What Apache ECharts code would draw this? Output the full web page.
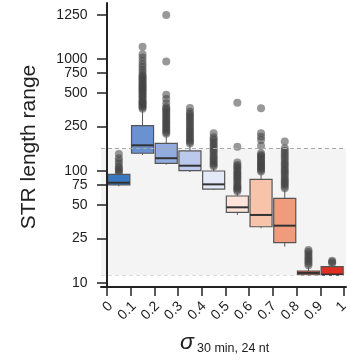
<!DOCTYPE html>
<html><head><meta charset="utf-8">
<script src="https://cdn.jsdelivr.net/npm/echarts@6/dist/echarts.min.js"></script>
<style>html,body{margin:0;padding:0;background:#fff}#c{width:351px;height:361px}</style>
</head><body><div id="c"></div>
<script>
// ---- data ----
const categories = ['0-0.1','0.1-0.2','0.2-0.3','0.3-0.4','0.4-0.5','0.5-0.6','0.6-0.7','0.7-0.8','0.8-0.9','0.9-1'];
const xTickValues = [0,0.1,0.2,0.3,0.4,0.5,0.6,0.7,0.8,0.9,1];
const xTickLabels = ['0','0.1','0.2','0.3','0.4','0.5','0.6','0.7','0.8','0.9','1'];
const yTickValues = [10,25,50,75,100,250,500,750,1000,1250];
const lowWhisker  = [73, 139, 114, 98, 67.7, 40.5, 30.8, 21.1, 11.7, 11.8];
const q1          = [75, 144, 117, 100.6, 69, 42.8, 31.8, 22.9, 11.8, 11.8];
const median      = [78.6, 169.6, 130, 111.5, 76, 47.4, 40.5, 32.5, 12.3, 11.9];
const q3          = [93.4, 254, 176.7, 151, 100, 59.8, 84.3, 57, 12.8, 14];
const highWhisker = [94, 351, 209.6, 170.8, 106.4, 63.6, 96, 67.7, 14, 14.6];
const outliers = [
  [96, 99, 102, 106, 109, 116, 123, 130, 142],
  [360, 370, 380, 390, 400, 410, 420, 435, 450, 465, 480, 495, 510, 525, 540, 555, 570, 585, 600, 620, 640, 660, 680, 700, 720, 760, 800, 850, 900, 960, 1008, 1027, 1070],
  [215, 222, 230, 238, 246, 255, 264, 273, 283, 293, 304, 315, 327, 338, 350, 362, 372, 402, 440, 480, 950, 1250],
  [176, 182, 188, 195, 202, 210, 218, 226, 235, 245, 255, 265, 276, 288, 300, 312, 325, 338, 365],
  [110, 114, 118, 122, 127, 132, 137, 143, 149, 155, 162, 169, 176, 184, 192, 200, 217],
  [66, 68, 70, 72, 74, 77, 80, 83, 86, 89, 92, 95, 98, 102, 106, 110, 113, 119, 165, 407],
  [99, 102, 105, 108, 111, 114, 117, 120, 124, 128, 132, 136, 139, 144, 168, 189, 202, 217, 363],
  [70, 73, 76, 79, 82, 85, 89, 93, 97, 101, 105, 110, 115, 120, 126, 132, 138, 145, 152, 160, 183],
  [14.4, 15, 15.6, 16.2, 16.8, 17.5, 18.2, 19, 19.7],
  [15.0, 15.4, 15.8]
];
const boxColors = ['#3b78c2','#6a92d0','#93acdf','#bac9ec','#e4e9f8','#fde4da','#f7c3ab','#f09b7b','#e8613f','#e02e21'];
const bandLow = 11.8, bandHigh = 160;

// custom y transform: log10 up to 1000, stretched linear above
function T(v){ return v <= 1000 ? Math.log10(v) : 3 + (v - 1000) / 250 * (44 / 112); }
function Tinv(t){ return t <= 3.0000001 ? Math.pow(10, t) : 1000 + (t - 3) * 250 * 112 / 44; }
const yMin = 0.9643, yMax = 3.5;
const xMin = -0.0253, xMax = 1.0084;

const FONT = 'Liberation Sans';
const boxData = categories.map((c, i) => [i, T(lowWhisker[i]), T(q1[i]), T(median[i]), T(q3[i]), T(highWhisker[i])]);
const outData = [];
outliers.forEach((arr, i) => arr.forEach(v => outData.push([i, T(v)])));
const xLabelFmt = v => { const k = xTickValues.findIndex(t => Math.abs(t - v) < 1e-6); return k >= 0 ? xTickLabels[k] : ''; };

const chart = echarts.init(document.getElementById('c'), null, {renderer: 'canvas'});
chart.setOption({
  animation: false,
  backgroundColor: '#fff',
  grid: [
    {left: 101, right: 5, top: 3, bottom: 74},
    {left: 107, right: 7, top: 3, bottom: 74},
    {left: 104.7, right: 1.3, top: 3, bottom: 74}
  ],
  xAxis: [
    {type: 'value', gridIndex: 0, min: xMin, max: xMax, z: 10,
     axisLine: {show: true, lineStyle: {color: '#222', width: 2}},
     axisTick: {show: true, customValues: xTickValues, length: 9, lineStyle: {color: '#222', width: 1.5}},
     axisLabel: {show: false},
     splitLine: {show: false}},
    {type: 'category', gridIndex: 1, data: categories, show: false, boundaryGap: true},
    // label-only axis (labels hang slightly right of their ticks, as in the reference)
    {type: 'value', gridIndex: 2, min: xMin, max: xMax, position: 'bottom', z: 10,
     axisLine: {show: false}, axisTick: {show: false}, splitLine: {show: false},
     axisLabel: {customValues: xTickValues, rotate: 45, margin: 17, fontSize: 14, color: '#222', fontFamily: FONT,
       formatter: xLabelFmt}}
  ],
  yAxis: [
    {type: 'value', gridIndex: 0, min: yMin, max: yMax, z: 10,
     axisLine: {show: true, lineStyle: {color: '#222', width: 2}},
     axisTick: {show: true, customValues: yTickValues.map(T), length: 10, lineStyle: {color: '#222', width: 1.5}},
     axisLabel: {customValues: yTickValues.map(T), margin: 13.5, fontSize: 14, color: '#222', fontFamily: FONT,
       formatter: v => String(Math.round(Tinv(v)))},
     splitLine: {show: false}},
    {type: 'value', gridIndex: 1, min: yMin, max: yMax, show: false},
    {type: 'value', gridIndex: 2, min: yMin, max: yMax, show: false}
  ],
  series: [
    {type: 'line', xAxisIndex: 0, yAxisIndex: 0, data: [], silent: true,
     markArea: {silent: true, itemStyle: {color: '#f4f4f4'}, data: [[{yAxis: T(bandLow)}, {yAxis: T(bandHigh)}]]},
     markLine: {silent: true, symbol: 'none', label: {show: false},
       data: [
         {yAxis: T(bandHigh), lineStyle: {color: '#aaaaaa', type: [4, 3], width: 1}},
         {yAxis: T(bandLow), lineStyle: {color: '#dcdcdc', type: [4, 3], width: 1}}
       ]}},
    {type: 'line', xAxisIndex: 2, yAxisIndex: 2, data: [], silent: true},
    {type: 'scatter', xAxisIndex: 1, yAxisIndex: 1, data: outData, symbolSize: 8, silent: true,
     itemStyle: {color: '#444', opacity: 0.55}, z: 3},
    {type: 'custom', xAxisIndex: 1, yAxisIndex: 1, data: boxData, z: 4, silent: true,
     encode: {x: 0, y: [1, 2, 3, 4, 5]},
     renderItem: function (params, api) {
       const i = api.value(0);
       const lo = api.coord([i, api.value(1)]);
       const b1 = api.coord([i, api.value(2)]);
       const md = api.coord([i, api.value(3)]);
       const b3 = api.coord([i, api.value(4)]);
       const hi = api.coord([i, api.value(5)]);
       const w = api.size([1, 0])[0] * 0.93;
       const x = md[0];
       return {type: 'group', children: [
         {type: 'line', shape: {x1: x, y1: hi[1], x2: x, y2: b3[1]}, style: {stroke: '#555', lineWidth: 1}},
         {type: 'line', shape: {x1: x, y1: b1[1], x2: x, y2: lo[1]}, style: {stroke: '#555', lineWidth: 1}},
         {type: 'rect', shape: {x: x - w / 2, y: b3[1], width: w, height: b1[1] - b3[1]},
          style: {fill: boxColors[params.dataIndex], stroke: '#555', lineWidth: 1.2}},
         {type: 'line', shape: {x1: x - w / 2, y1: md[1], x2: x + w / 2, y2: md[1]}, style: {stroke: '#333', lineWidth: 2}}
       ]};
     }}
  ],
  graphic: [
    {type: 'text', x: 29, y: 147, rotation: Math.PI / 2,
     style: {text: 'STR length range', fontSize: 21, fontFamily: FONT, fill: '#222', align: 'center', verticalAlign: 'middle'}},
    {type: 'text', x: 180, y: 331,
     style: {text: 'σ', fontSize: 23, fontStyle: 'italic', fontFamily: FONT, fill: '#222', align: 'left', verticalAlign: 'top'}},
    {type: 'text', x: 197, y: 342,
     style: {text: '30 min, 24 nt', fontSize: 12.5, fontFamily: FONT, fill: '#222', align: 'left', verticalAlign: 'top'}}
  ]
});
</script></body></html>
